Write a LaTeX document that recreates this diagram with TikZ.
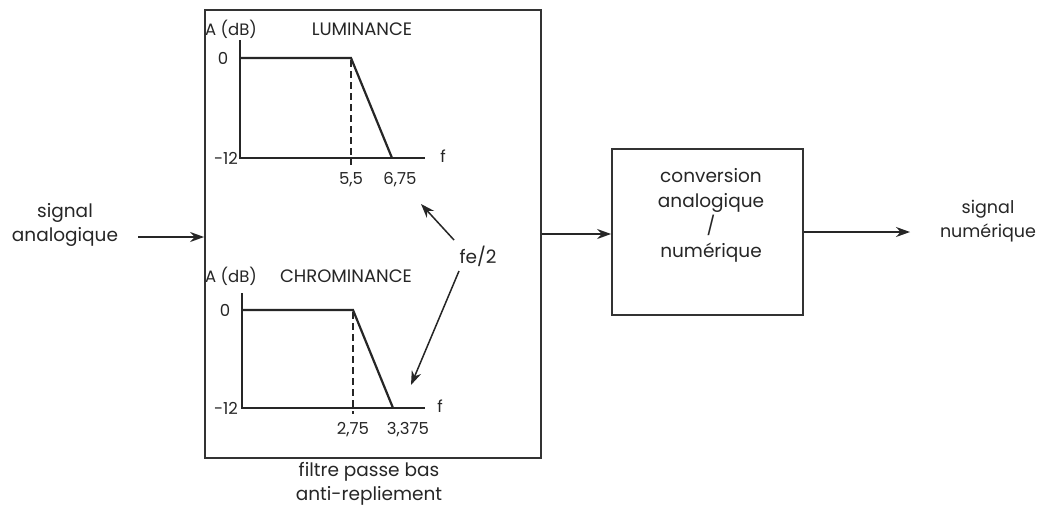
\documentclass[tikz,border=0pt]{standalone}
\usepackage{fontspec}
\setmainfont{Poppins}
\usetikzlibrary{arrows.meta}
\begin{document}
\begin{tikzpicture}[x=1pt,y=-1pt,
  txt/.style={font=\fontsize{18.5}{24}\selectfont, text=black!85, inner sep=0pt, align=center},
  small/.style={font=\fontsize{16.5}{18}\selectfont, text=black!85, inner sep=0pt},
  title/.style={font=\fontsize{18}{18}\selectfont, text=black!85, inner sep=0pt},
  box/.style={draw=black!80, line width=1.8pt, inner sep=0pt},
  arr/.style={draw=black!85, line width=1.5pt, -{Stealth[length=14pt,width=10pt]}},
  axis/.style={draw=black!85, line width=2.2pt},
  dashline/.style={draw=black!85, line width=2pt, dash pattern=on 7pt off 4pt}]
\useasboundingbox[fill=white] (0,0) rectangle (1043,519);
% blocks
\node[box, minimum width=336pt, minimum height=448pt] (filt) at (373,234) {};
\node[box, minimum width=191pt, minimum height=166pt] (conv) at (707.5,232) {};
\node[txt, font=\fontsize{18.5}{25}\selectfont] (convt) at (711,215) {conversion\\analogique\\/\\numérique};
\node[txt] (in) at (65,225) {signal\\analogique};
\node[txt, font=\fontsize{17.5}{24}\selectfont] (out) at (988,221) {signal\\numérique};
\node[txt] (flab) at (369,484) {filtre passe bas\\anti-repliement};
% connectors
\coordinate (a1) at (138,237);
\draw[arr] (a1) -- (a1 -| filt.west);
\coordinate (a2) at (filt.east |- 0,234);
\draw[arr] (a2) -- (a2 -| conv.west);
\coordinate (a3) at (conv.east |- 0,232);
\coordinate (a3e) at (910,232);
\draw[arr] (a3) -- (a3e);
% luminance plot
\node[small, anchor=west] (lA) at (205,29) {A (dB)};
\node[title] (lT) at (362,29) {LUMINANCE};
\node[small] (l0) at (223,58) {0};
\node[small] (l12) at (226,158) {-12};
\node[small] (lf) at (443,156) {f};
\node[small] (l55) at (351,180) {5,5};
\node[small] (l675) at (400,180) {6,75};
\draw[axis] (240,40) -- (240,158) -- (425,158);
\draw[axis] (240,58) -- (351,58) -- (392,158);
\draw[dashline] (351,60) -- (351,165);
% chrominance plot
\node[small, anchor=west] (cA) at (205,276) {A (dB)};
\node[title] (cT) at (346,276) {CHROMINANCE};
\node[small] (c0) at (225,310) {0};
\node[small] (c12) at (226,408) {-12};
\node[small] (cf) at (440,406) {f};
\node[small] (c275) at (353,430) {2,75};
\node[small] (c3375) at (408,430) {3,375};
\draw[axis] (242,293) -- (242,408) -- (425,408);
\draw[axis] (242,310) -- (353,310) -- (393,408);
\draw[dashline] (353,312) -- (353,414);
% fe/2
\node[txt] (fe) at (478,256) {fe/2};
\coordinate (t1) at (421,204);
\coordinate (t2) at (411,385);
\draw[arr] (454,240) -- (t1);
\draw[arr] (459,271) -- (t2);
\end{tikzpicture}
\end{document}
